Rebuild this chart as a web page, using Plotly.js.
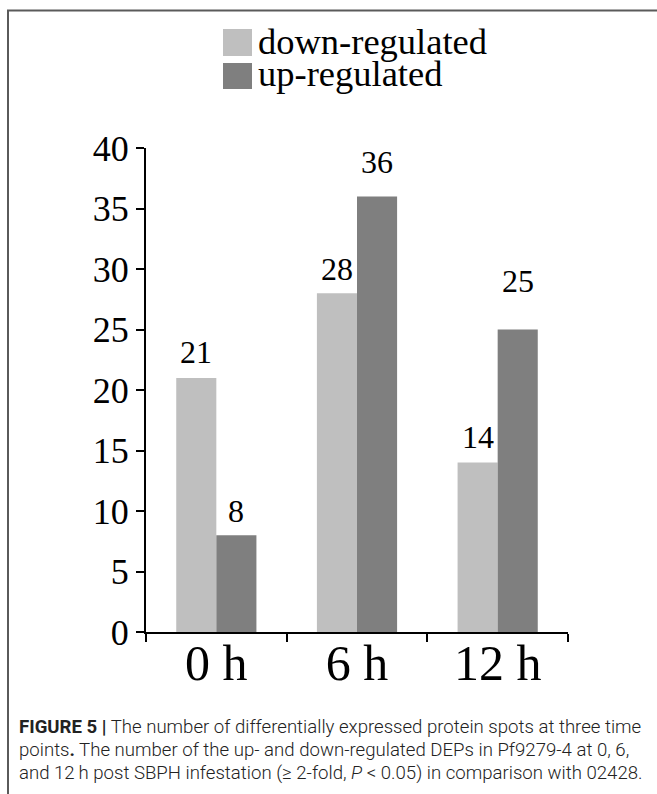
<!DOCTYPE html>
<html>
<head>
<meta charset="utf-8">
<script src="https://cdn.plot.ly/plotly-3.0.1.min.js"></script>
<style>html,body{margin:0;padding:0;background:#fff;}#chart{width:657px;height:794px;}</style>
</head>
<body>
<div id="chart"></div>
<script>
// ---- data ----
var categories = ["0 h", "6 h", "12 h"];
var seriesNames = ["down-regulated", "up-regulated"];
var downValues = [21, 28, 14];
var upValues = [8, 36, 25];
var yTickVals = [0, 5, 10, 15, 20, 25, 30, 35, 40];
var captionLines = [
  "<b>FIGURE 5 |</b> The number of differentially expressed protein spots at three time",
  "points<b>.</b> The number of the up- and down-regulated DEPs in Pf9279-4 at 0, 6,",
  "and 12\u2009h post SBPH infestation (\u2265 2-fold, <i>P</i> &lt; 0.05) in comparison with 02428."
];

// ---- style ----
var colors = ["#bfbfbf", "#7f7f7f"];
var serif = "Liberation Serif, Times New Roman, serif";
var W = 657, H = 794;
var M = {l: 146, r: 89, t: 148, b: 162};
var PW = W - M.l - M.r, PH = H - M.t - M.b;
function px2x(px) { return (px - M.l) / PW; }
function py2y(py) { return (H - M.b - py) / PH; }
// gap (px) between bar top and label baseline, per series
var labelGap = [[14, 12, 14], [12, 22, 37]];

var traces = [
  {type: "bar", name: seriesNames[0], x: categories, y: downValues,
   marker: {color: colors[0]}, hoverinfo: "none", showlegend: false},
  {type: "bar", name: seriesNames[1], x: categories, y: upValues,
   marker: {color: colors[1]}, hoverinfo: "none", showlegend: false}
];

var annotations = [];
var allVals = [downValues, upValues];
for (var s = 0; s < 2; s++) {
  for (var i = 0; i < categories.length; i++) {
    annotations.push({
      xref: "x", yref: "y", x: categories[i], y: allVals[s][i],
      xshift: s === 0 ? -20 : 20, yshift: labelGap[s][i] - 8,
      yanchor: "bottom", xanchor: "center", showarrow: false,
      text: String(allVals[s][i]),
      font: {family: serif, size: 32, color: "#000"}
    });
  }
}
// custom legend text
var legendCenters = [41, 74];
for (var s2 = 0; s2 < 2; s2++) {
  annotations.push({
    xref: "paper", yref: "paper", x: px2x(256), y: py2y(legendCenters[s2]),
    xanchor: "left", yanchor: "middle", showarrow: false,
    text: seriesNames[s2], font: {family: serif, size: 36.5, color: "#000"}
  });
}
// caption
var captionCenters = [727, 750, 773];
for (var c = 0; c < captionLines.length; c++) {
  annotations.push({
    xref: "paper", yref: "paper", x: px2x(17), y: py2y(captionCenters[c]),
    xanchor: "left", yanchor: "middle", showarrow: false, align: "left",
    text: captionLines[c],
    font: {family: "Roboto, Liberation Sans, sans-serif", size: 18.6, weight: 300, color: "#222"}
  });
}

var shapes = [
  // legend swatches
  {type: "rect", xref: "paper", yref: "paper", x0: px2x(223), x1: px2x(252), y0: py2y(56), y1: py2y(29),
   fillcolor: colors[0], line: {width: 0}},
  {type: "rect", xref: "paper", yref: "paper", x0: px2x(223), x1: px2x(252), y0: py2y(89), y1: py2y(63),
   fillcolor: colors[1], line: {width: 0}},
  // frame (top and left)
  {type: "line", xref: "paper", yref: "paper", x0: px2x(7), x1: px2x(660), y0: py2y(10.5), y1: py2y(10.5),
   line: {color: "#5a5a5a", width: 2}},
  {type: "line", xref: "paper", yref: "paper", x0: px2x(8), x1: px2x(8), y0: py2y(10), y1: py2y(800),
   line: {color: "#5a5a5a", width: 2}}
];

var layout = {
  width: W, height: H,
  margin: M,
  paper_bgcolor: "#fff", plot_bgcolor: "#fff",
  barmode: "group", bargap: 0.43, bargroupgap: 0,
  showlegend: false,
  xaxis: {
    type: "category", showline: true, linecolor: "#000", linewidth: 2,
    ticks: "outside", tickson: "boundaries", ticklen: 8, tickwidth: 2, tickcolor: "#000",
    showgrid: false, zeroline: false, ticklabelstandoff: -14,
    tickfont: {family: serif, size: 50, color: "#000"}
  },
  yaxis: {
    range: [0, 40], tickvals: yTickVals, ticktext: yTickVals.map(String),
    showline: true, linecolor: "#000", linewidth: 2,
    ticks: "outside", ticklen: 8, tickwidth: 2, tickcolor: "#000",
    showgrid: false, zeroline: false,
    tickfont: {family: serif, size: 36, color: "#000"}
  },
  annotations: annotations,
  shapes: shapes
};

Plotly.newPlot("chart", traces, layout, {displayModeBar: false, staticPlot: true});
</script>
</body>
</html>
